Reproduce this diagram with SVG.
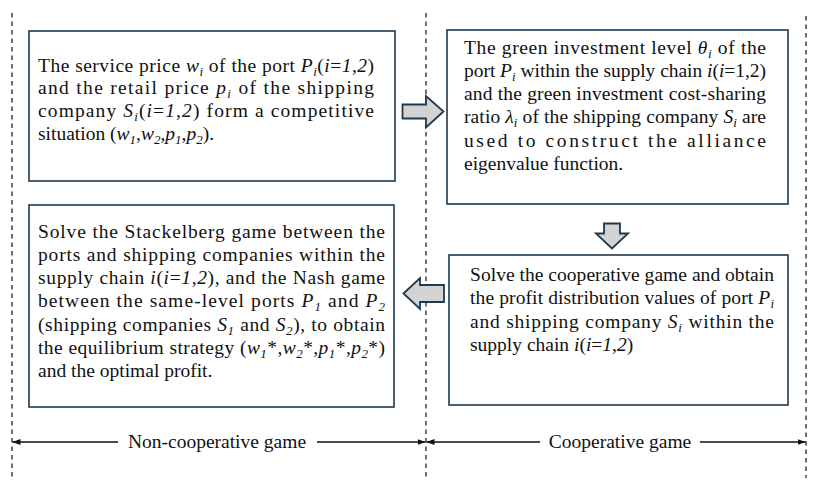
<svg xmlns="http://www.w3.org/2000/svg" width="819" height="490" viewBox="0 0 819 490">
<style>
text{font-family:"Liberation Serif","Times New Roman",serif;font-size:19.5px;fill:#111}
.i{font-style:italic}
.s{font-style:italic;font-size:13px}
.box{fill:#fff;stroke:#1f3a4f;stroke-width:1.6}
.blk{fill:#d3d3d3;stroke:#1f3a4f;stroke-width:1.8;stroke-linejoin:miter}
.dash{stroke:#222;stroke-width:1.3;stroke-dasharray:4.5,4;fill:none}
.dim{stroke:#111;stroke-width:1.3;fill:none}
</style>
<defs>
<marker id="ah" viewBox="0 0 8 6" refX="8" refY="3" markerWidth="8" markerHeight="6" markerUnits="userSpaceOnUse" orient="auto-start-reverse">
<path d="M0,0 L8,3 L0,6 Z" fill="#111"/>
</marker>
</defs>

<g id="dividers">
<line class="dash" x1="12" y1="13" x2="12" y2="478"/>
<line class="dash" x1="426" y1="13" x2="426" y2="478"/>
<line class="dash" x1="806" y1="16" x2="806" y2="478"/>
</g>

<g id="node-competition">
<rect class="box" x="29" y="31" width="366" height="150"/>
<text x="38" y="71.5" textLength="336" lengthAdjust="spacing">The service price <tspan class="i">w</tspan><tspan class="s" dy="4">i</tspan><tspan dy="-4"> of the port </tspan><tspan class="i">P</tspan><tspan class="s" dy="4">i</tspan><tspan dy="-4">(</tspan><tspan class="i">i</tspan>=<tspan class="i">1</tspan>,<tspan class="i">2</tspan>)</text>
<text x="38" y="94.3" textLength="336" lengthAdjust="spacing">and the retail price <tspan class="i">p</tspan><tspan class="s" dy="4">i</tspan><tspan dy="-4"> of the shipping</tspan></text>
<text x="38" y="117" textLength="336" lengthAdjust="spacing">company <tspan class="i">S</tspan><tspan class="s" dy="4">i</tspan><tspan dy="-4">(</tspan><tspan class="i">i</tspan>=<tspan class="i">1</tspan>,<tspan class="i">2</tspan>) form a competitive</text>
<text x="38" y="140">situation (<tspan class="i">w</tspan><tspan class="s" dy="4">1</tspan><tspan dy="-4">,</tspan><tspan class="i">w</tspan><tspan class="s" dy="4">2</tspan><tspan dy="-4">,</tspan><tspan class="i">p</tspan><tspan class="s" dy="4">1</tspan><tspan dy="-4">,</tspan><tspan class="i">p</tspan><tspan class="s" dy="4">2</tspan><tspan dy="-4">).</tspan></text>
</g>

<g id="node-green-investment">
<rect class="box" x="447" y="30" width="341" height="174"/>
<text x="464" y="53.5" textLength="302" lengthAdjust="spacing">The green investment level <tspan class="i">θ</tspan><tspan class="s" dy="4">i</tspan><tspan dy="-4"> of the</tspan></text>
<text x="464" y="76.8" textLength="302" lengthAdjust="spacing">port <tspan class="i">P</tspan><tspan class="s" dy="4">i</tspan><tspan dy="-4"> within the supply chain </tspan><tspan class="i">i</tspan>(<tspan class="i">i</tspan>=1,2)</text>
<text x="464" y="100.1" textLength="302" lengthAdjust="spacing">and the green investment cost-sharing</text>
<text x="464" y="123.4" textLength="302" lengthAdjust="spacing">ratio <tspan class="i">λ</tspan><tspan class="s" dy="4">i</tspan><tspan dy="-4"> of the shipping company </tspan><tspan class="i">S</tspan><tspan class="s" dy="4">i</tspan><tspan dy="-4"> are</tspan></text>
<text x="464" y="146.7" textLength="302" lengthAdjust="spacing">used to construct the alliance</text>
<text x="464" y="170">eigenvalue function.</text>
</g>

<g id="node-cooperative">
<rect class="box" x="449" y="255" width="339" height="150"/>
<text x="470" y="280.5" textLength="304" lengthAdjust="spacing">Solve the cooperative game and obtain</text>
<text x="470" y="304" textLength="304" lengthAdjust="spacing">the profit distribution values of port <tspan class="i">P</tspan><tspan class="s" dy="4">i</tspan></text>
<text x="470" y="327.5" textLength="304" lengthAdjust="spacing">and shipping company <tspan class="i">S</tspan><tspan class="s" dy="4">i</tspan><tspan dy="-4"> within the</tspan></text>
<text x="470" y="351">supply chain <tspan class="i">i</tspan>(<tspan class="i">i</tspan>=<tspan class="i">1</tspan>,<tspan class="i">2</tspan>)</text>
</g>

<g id="node-noncooperative">
<rect class="box" x="29" y="205" width="365" height="202"/>
<text x="38" y="237.5" textLength="347" lengthAdjust="spacing">Solve the Stackelberg game between the</text>
<text x="38" y="260.8" textLength="347" lengthAdjust="spacing">ports and shipping companies within the</text>
<text x="38" y="284" textLength="347" lengthAdjust="spacing">supply chain <tspan class="i">i</tspan>(<tspan class="i">i</tspan>=<tspan class="i">1</tspan>,<tspan class="i">2</tspan>), and the Nash game</text>
<text x="38" y="307.3" textLength="347" lengthAdjust="spacing">between the same-level ports <tspan class="i">P</tspan><tspan class="s" dy="4">1</tspan><tspan dy="-4"> and </tspan><tspan class="i">P</tspan><tspan class="s" dy="4">2</tspan></text>
<text x="38" y="330.7" textLength="347" lengthAdjust="spacing">(shipping companies <tspan class="i">S</tspan><tspan class="s" dy="4">1</tspan><tspan dy="-4"> and </tspan><tspan class="i">S</tspan><tspan class="s" dy="4">2</tspan><tspan dy="-4">), to obtain</tspan></text>
<text x="38" y="354" textLength="347" lengthAdjust="spacing">the equilibrium strategy (<tspan class="i">w</tspan><tspan class="s" dy="4">1</tspan><tspan dy="-4">*,</tspan><tspan class="i">w</tspan><tspan class="s" dy="4">2</tspan><tspan dy="-4">*,</tspan><tspan class="i">p</tspan><tspan class="s" dy="4">1</tspan><tspan dy="-4">*,</tspan><tspan class="i">p</tspan><tspan class="s" dy="4">2</tspan><tspan dy="-4">*)</tspan></text>
<text x="38" y="377.3">and the optimal profit.</text>
</g>

<g id="connectors">
<polygon class="blk" points="402.5,104.5 426,104.5 426,96 443.5,111.5 426,127.5 426,118.5 402.5,118.5"/>
<polygon class="blk" points="604,223.5 620,223.5 620,233.5 628,233.5 612,248.5 596,233.5 604,233.5"/>
<polygon class="blk" points="403.5,293.5 420,278 420,285 444,285 444,302 420,302 420,309"/>
</g>

<g id="phase-labels">
<line class="dim" x1="118" y1="442" x2="12.5" y2="442" marker-end="url(#ah)"/>
<line class="dim" x1="317" y1="442" x2="425.5" y2="442" marker-end="url(#ah)"/>
<line class="dim" x1="540" y1="442" x2="426.5" y2="442" marker-end="url(#ah)"/>
<line class="dim" x1="700" y1="442" x2="805.5" y2="442" marker-end="url(#ah)"/>
<text x="217" y="448" text-anchor="middle">Non-cooperative game</text>
<text x="620" y="448" text-anchor="middle">Cooperative game</text>
</g>
</svg>
